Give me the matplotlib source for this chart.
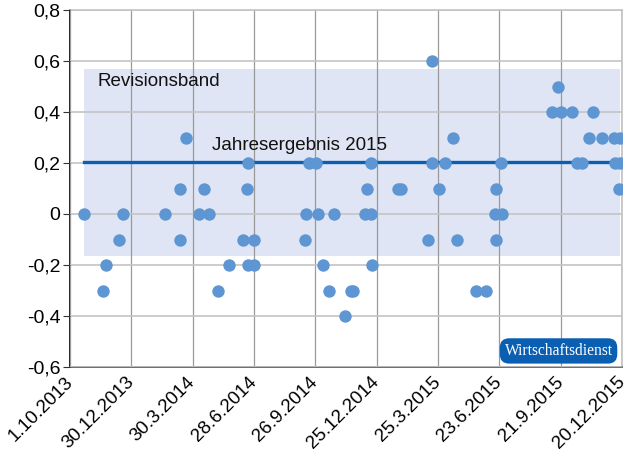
import matplotlib
matplotlib.use("Agg")
import matplotlib.pyplot as plt

plt.rcParams['font.family'] = ['Liberation Sans', 'DejaVu Sans']

# days since 1.10.2013 and revision values
days = [20, 48, 53, 72, 78, 139, 161, 161, 170, 189, 197, 204, 217, 233,
        254, 260, 261, 261, 270, 270, 345, 346, 351, 361, 364, 371, 380,
        387, 403, 413, 416, 433, 436, 442, 442, 443, 481, 485, 525, 531,
        531, 542, 550, 562, 568, 596, 610, 624, 625, 625, 632, 634, 707,
        716, 721, 737, 744, 751, 762, 767, 781, 798, 800, 806, 807, 807]
values = [0, -0.3, -0.2, -0.1, 0, 0, 0.1, -0.1, 0.3, 0, 0.1, 0, -0.3, -0.2,
          -0.1, 0.1, 0.2, -0.2, -0.1, -0.2, -0.1, 0, 0.2, 0.2, 0, -0.2, -0.3,
          0, -0.4, -0.3, -0.3, 0, 0.1, 0.2, 0, -0.2, 0.1, 0.1, -0.1, 0.6,
          0.2, 0.1, 0.2, 0.3, -0.1, -0.3, -0.3, 0, 0.1, -0.1, 0.2, 0, 0.4,
          0.5, 0.4, 0.4, 0.2, 0.2, 0.3, 0.4, 0.3, 0.3, 0.2, 0.1, 0.3, 0.2]

band = (-0.165, 0.57)
band_days = (20, 807)
result_2015 = 0.205

tick_days = [0, 90, 180, 270, 360, 450, 540, 630, 720, 810]
tick_labels = ['1.10.2013', '30.12.2013', '30.3.2014', '28.6.2014',
               '26.9.2014', '25.12.2014', '25.3.2015', '23.6.2015',
               '21.9.2015', '20.12.2015']
y_ticks = [-0.6, -0.4, -0.2, 0, 0.2, 0.4, 0.6, 0.8]
y_labels = ['-0,6', '-0,4', '-0,2', '0', '0,2', '0,4', '0,6', '0,8']

fig = plt.figure(figsize=(6.3, 4.63), dpi=100)
ax = fig.add_axes([70 / 630, 1 - 367 / 463, 552 / 630, 357 / 463])

ax.fill_between(band_days, band[0], band[1], color='#dfe5f4', lw=0, zorder=1)
ax.plot(band_days, [result_2015, result_2015], color='#0b5fb3', lw=2.4, zorder=3)
ax.scatter(days, values, s=80, color='#5e95d3', lw=0, zorder=4)

ax.set_xlim(0, 810)
ax.set_ylim(-0.6, 0.8)
ax.set_xticks(tick_days)
ax.set_xticklabels(tick_labels, rotation=45, ha='right', va='center',
                   rotation_mode='anchor', fontsize=13.5)
ax.set_yticks(y_ticks)
ax.set_yticklabels(y_labels, fontsize=14)
ax.tick_params(axis='x', length=0, pad=9)
ax.tick_params(axis='y', length=5, width=0.8, color='#333333', pad=2)

ax.grid(axis='x', color='#9a9a9a', lw=0.9, zorder=2)
ax.grid(axis='y', color='#c4c4c4', lw=1.2, zorder=2)
ax.set_axisbelow(False)
for side in ['top', 'right']:
    ax.spines[side].set_color('#c4c4c4')
    ax.spines[side].set_linewidth(1.2)
ax.spines['left'].set_color('black')
ax.spines['left'].set_linewidth(1.2)
ax.spines['bottom'].set_color('#555555')
ax.spines['bottom'].set_linewidth(1.2)

ax.text(41, 0.52, 'Revisionsband', fontsize=13.5, color='#111111',
        va='center', ha='left', zorder=5)
ax.text(208, 0.27, 'Jahresergebnis 2015', fontsize=13.5, color='#111111',
        va='center', ha='left', zorder=5)

ax.text(0.983, 0.045, 'Wirtschaftsdienst', transform=ax.transAxes,
        ha='right', va='center', fontsize=11.2, color='white',
        family=['Liberation Serif', 'DejaVu Serif'], zorder=6,
        bbox=dict(boxstyle='round,pad=0.3,rounding_size=0.6',
                  fc='#0b5fb3', ec='none'))

fig.savefig('out.png', dpi=100)
